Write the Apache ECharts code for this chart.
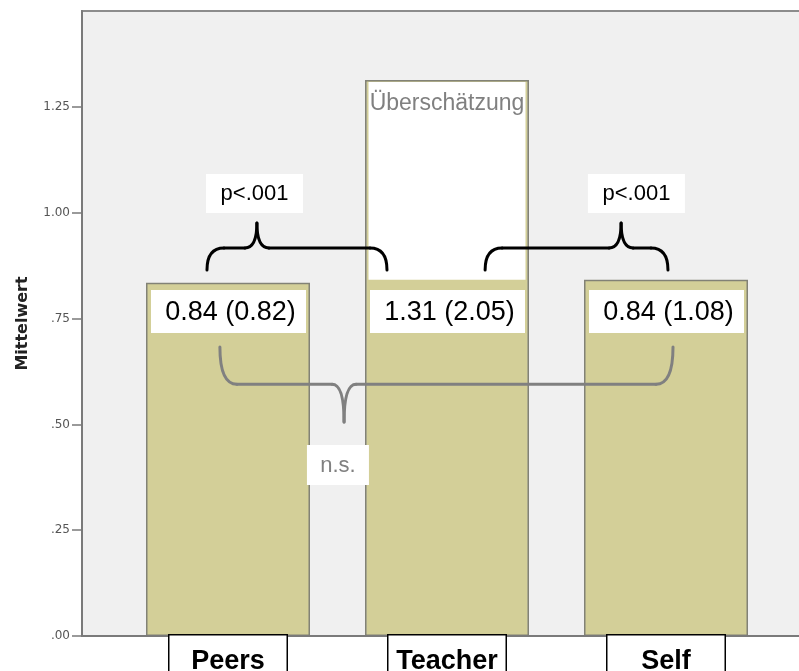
<!DOCTYPE html>
<html><head><meta charset="utf-8">
<script src="https://cdn.jsdelivr.net/npm/echarts@6/dist/echarts.min.js"></script>
<style>html,body{margin:0;padding:0;background:#fff}#c{width:799px;height:671px}</style>
</head><body><div id="c"></div>
<script>
// ---- data ----
const categories = ['Peers', 'Teacher', 'Self'];
const means = [0.835, 1.314, 0.842];
const teacherBase = 0.842;               // filled part of the teacher bar (Peers/Self level)
const valueLabels = ['0.84 (0.82)', '1.31 (2.05)', '0.84 (1.08)'];
const yTicks = [0, 0.25, 0.5, 0.75, 1.0, 1.25];
const yTickLabels = ['.00', '.25', '.50', '.75', '1.00', '1.25'];
const sigLabels = ['p<.001', 'p<.001', 'n.s.'];
const overLabel = 'Überschätzung';
const yName = 'Mittelwert';

// ---- style ----
const KHAKI = '#d3cf98';
const EDGE = '#828276';
const FONT = 'Liberation Sans, Arial, sans-serif';
const XMIN = -2 / 3, XMAX = 2.621, YMAX = 1.477;

const chart = echarts.init(document.getElementById('c'), null, { renderer: 'canvas' });

const xBase = {
  type: 'value', min: XMIN, max: XMAX, gridIndex: 0,
  splitLine: { show: false }
};

chart.setOption({
  animation: false,
  backgroundColor: '#ffffff',
  grid: {
    left: 82, right: -3, top: 11, bottom: 35, show: true,
    outerBoundsMode: 'none', containLabel: false,
    backgroundColor: '#f0f0f0', borderColor: '#8c8c8c', borderWidth: 2
  },
  xAxis: [
    Object.assign({}, xBase, {
      position: 'bottom', z: 10,
      axisLine: { show: true, onZero: false, lineStyle: { color: '#7a7a7a', width: 2 } },
      axisTick: { show: false },
      axisLabel: {
        customValues: [0, 1, 2],
        margin: 11,
        formatter: v => '{b|' + categories[Math.round(v)] + '}',
        rich: {
          b: {
            width: 103, align: 'center',
            fontFamily: FONT, fontSize: 27, fontWeight: 'bold', color: '#000',
            lineHeight: 27,
            backgroundColor: '#ffffff', borderColor: '#000000', borderWidth: 1.5,
            padding: [13, 7, 10, 7]
          }
        }
      }
    }),
    Object.assign({}, xBase, { show: false })
  ],
  yAxis: {
    type: 'value', min: 0, max: YMAX,
    name: yName, nameLocation: 'middle', nameGap: 51,
    nameTextStyle: { fontFamily: 'DejaVu Sans', fontWeight: 'bold', fontSize: 16, color: '#222' },
    axisLine: { show: true, onZero: false, lineStyle: { color: '#7a7a7a', width: 2 } },
    axisTick: { show: true, length: 10, customValues: yTicks, lineStyle: { color: '#7a7a7a', width: 1.5 } },
    axisLabel: {
      customValues: yTicks, margin: 12,
      fontFamily: 'DejaVu Sans', fontSize: 12, color: '#555',
      formatter: v => {
        const i = yTicks.findIndex(t => Math.abs(t - v) < 1e-6);
        return i >= 0 ? yTickLabels[i] : '';
      }
    },
    splitLine: { show: false }
  },
  series: [
    {
      type: 'bar', xAxisIndex: 0, barWidth: 164, barGap: '-100%',
      data: means.map((v, i) => ({ value: [i, v], itemStyle: { color: i === 1 ? '#ffffff' : KHAKI } })),
      itemStyle: { borderColor: EDGE, borderWidth: 1.5 }
    },
    {
      type: 'bar', xAxisIndex: 1, barWidth: 161, barGap: '-100%',
      data: [[1, teacherBase]],
      itemStyle: { color: KHAKI, borderWidth: 0 }
    },
    {
      type: 'bar', xAxisIndex: 1, barWidth: 161, barGap: '-100%',
      data: [[1, means[1]]],
      itemStyle: { color: 'rgba(0,0,0,0)', borderColor: KHAKI, borderWidth: 2 }
    },
    {
      type: 'bar', xAxisIndex: 0, barWidth: 164, barGap: '-100%',
      data: [[1, means[1]]],
      itemStyle: { color: 'rgba(0,0,0,0)', borderColor: EDGE, borderWidth: 1.5 }
    }
  ]
});

// ---- annotations placed through the chart's own coordinate system ----
const P = (x, y) => chart.convertToPixel({ gridIndex: 0 }, [x, y]);
const Z = 100;

function textEl(x, y, text, size, color) {
  return {
    type: 'text', x: x, y: y, z: Z + 1,
    style: {
      text: text, fontFamily: FONT, fontSize: size, fill: color,
      align: 'center', verticalAlign: 'middle', textAlign: 'center', textVerticalAlign: 'middle'
    }
  };
}
function boxEl(cx, cy, w, h) {
  return { type: 'rect', z: Z, shape: { x: cx - w / 2, y: cy - h / 2, width: w, height: h }, style: { fill: '#ffffff' } };
}
function brace(xl, xr, xp, yEnd, yLine, yPeak, color) {
  const [pl, pe] = P(xl, yEnd), [pr] = P(xr, yEnd), [pp, pk] = P(xp, yPeak), pL = P(0, yLine)[1];
  const r = 17, rp = 12;
  const s = { stroke: color, lineWidth: 3, fill: 'none', lineCap: 'round' };
  return [
    { type: 'bezierCurve', z: Z, shape: { x1: pl, y1: pe, cpx1: pl, cpy1: pL, x2: pl + r, y2: pL }, style: s },
    { type: 'line', z: Z, shape: { x1: pl + r, y1: pL, x2: pp - rp, y2: pL }, style: s },
    { type: 'bezierCurve', z: Z, shape: { x1: pp - rp, y1: pL, cpx1: pp, cpy1: pL, x2: pp, y2: pk }, style: s },
    { type: 'bezierCurve', z: Z, shape: { x1: pp + rp, y1: pL, cpx1: pp, cpy1: pL, x2: pp, y2: pk }, style: s },
    { type: 'line', z: Z, shape: { x1: pp + rp, y1: pL, x2: pr - r, y2: pL }, style: s },
    { type: 'bezierCurve', z: Z, shape: { x1: pr - r, y1: pL, cpx1: pr, cpy1: pL, x2: pr, y2: pe }, style: s }
  ];
}

const els = [];
// value boxes inside the bars
valueLabels.forEach((t, i) => {
  const [cx, cy] = P(i, 0.767);
  els.push(boxEl(cx + 0.5, cy, 155, 43));
  els.push(textEl(cx + 2.5, cy + 1, t, 27, '#000'));
});
// overestimation label
{
  const [cx, cy] = P(1, 1.257);
  els.push(textEl(cx, cy, overLabel, 23, '#808080'));
}
// braces
els.push(...brace(-0.096, 0.726, 0.132, 0.865, 0.917, 0.976, '#000'));
els.push(...brace(1.174, 2.009, 1.795, 0.865, 0.917, 0.976, '#000'));
els.push(...brace(-0.037, 2.032, 0.530, 0.683, 0.595, 0.506, '#808080'));
// significance boxes
[[0.121, 1.046, 97, 39, '#000'], [1.865, 1.046, 97, 39, '#000'], [0.502, 0.404, 62, 40, '#808080']].forEach((b, i) => {
  const [cx, cy] = P(b[0], b[1]);
  els.push(boxEl(cx, cy, b[2], b[3]));
  els.push(textEl(cx, cy + 1, sigLabels[i], 22, b[4]));
});

chart.setOption({ graphic: { elements: els } });
</script>
</body></html>
